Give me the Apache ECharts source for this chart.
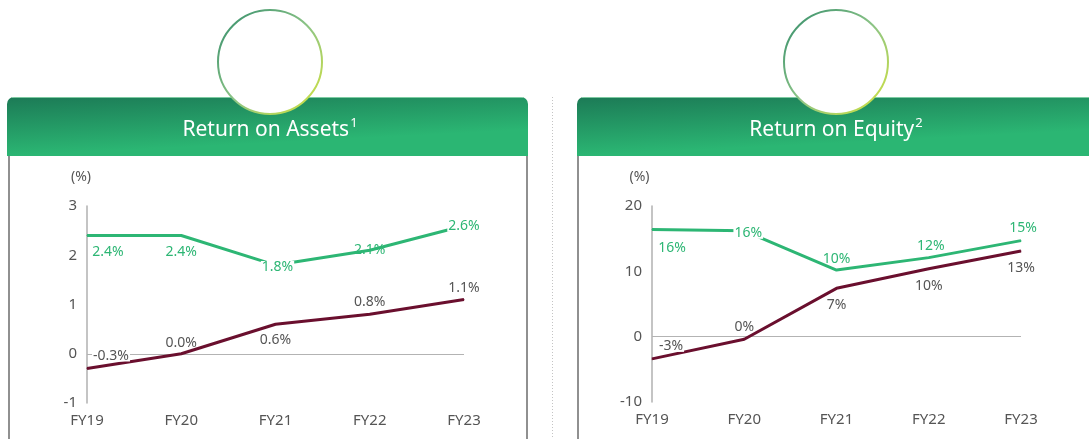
<!DOCTYPE html>
<html>
<head>
<meta charset="utf-8">
<script src="https://cdn.jsdelivr.net/npm/echarts@6/dist/echarts.min.js"></script>
<style>
html,body{margin:0;padding:0;background:#fff;}
#chart{width:1089px;height:439px;}
</style>
</head>
<body>
<div id="chart"></div>
<script>
// ---- data ----
const categories = ['FY19', 'FY20', 'FY21', 'FY22', 'FY23'];
const roaGreen  = [2.4, 2.4, 1.8, 2.1, 2.6];
const roaMaroon = [-0.3, 0.0, 0.6, 0.8, 1.1];
const roeGreen  = [16.4, 16.2, 10.2, 12.1, 14.7];
const roeMaroon = [-3.4, -0.4, 7.4, 10.4, 13.1];
const roaTicks = [-1, 0, 1, 2, 3];
const roeTicks = [-10, 0, 10, 20];
const titles = ['Return on Assets', 'Return on Equity'];
const titleNotes = ['1', '2'];

// ---- label placement (layout, not data): [dx, dy, whiteBackground] ----
const roaGreenLbl  = [[21, 16, 0], [0, 16, 0], [2, 2, 1], [0, 0, 0], [0, 0, 1]];
const roaMaroonLbl = [[24, -13, 1], [0, -11, 0], [0, 16, 0], [0, -12, 0], [0, -12, 0]];
const roeGreenLbl  = [[20, 18, 0], [4, 2, 1], [0, -11, 0], [2, -12, 0], [2, -13, 0]];
const roeMaroonLbl = [[19, -13, 1], [0, -12, 0], [0, 17, 0], [0, 17, 0], [0, 17, 0]];

const GREEN = '#2db674';
const MAROON = '#6a0f2e';
const GREY_TXT = '#555555';
const FONT = 'Noto Sans';

function buildData(vals, lbl, color, fmt) {
  return vals.map((v, i) => ({
    value: v,
    label: {
      show: true,
      position: 'inside',
      color: color,
      fontFamily: FONT,
      fontSize: 14,
      lineHeight: 12,
      backgroundColor: lbl[i][2] ? '#ffffff' : 'transparent',
      padding: [0, 1],
      formatter: () => fmt(v)
    }
  }));
}
const fmt1 = v => v.toFixed(1) + '%';
const fmt0 = v => (Math.round(v) === 0 ? 0 : Math.round(v)) + '%';

function lineSeries(xi, vals, lbl, color, lblColor, fmt, z, withZero) {
  const s = {
    type: 'line',
    xAxisIndex: xi,
    yAxisIndex: xi,
    data: buildData(vals, lbl, lblColor, fmt),
    symbol: 'circle',
    symbolSize: 1,
    itemStyle: { color: color },
    lineStyle: { color: color, width: 3 },
    z: z,
    silent: true,
    labelLayout: function (p) {
      const o = lbl[p.dataIndex];
      return { dx: o[0], dy: o[1], hideOverlap: false };
    }
  };
  if (withZero) {
    s.markLine = {
      silent: true,
      symbol: 'none',
      label: { show: false },
      lineStyle: { color: '#b3b3b3', width: 1.2, type: 'solid' },
      data: [{ yAxis: 0 }],
      z: 1
    };
  }
  return s;
}

function xAxis(gi) {
  return {
    type: 'category',
    gridIndex: gi,
    data: categories,
    boundaryGap: false,
    axisLine: { show: false },
    axisTick: { show: false },
    axisLabel: { color: GREY_TXT, fontFamily: FONT, fontSize: 15, margin: 10 }
  };
}
function yAxis(gi, ticks, padRight) {
  return {
    type: 'value',
    gridIndex: gi,
    min: ticks[0],
    max: ticks[ticks.length - 1],
    interval: ticks[1] - ticks[0],
    name: '(%)',
    nameLocation: 'end',
    nameGap: 22,
    nameTextStyle: { color: GREY_TXT, fontFamily: FONT, fontSize: 14, align: 'center', padding: [0, padRight, 0, 0] },
    axisLine: { show: true, lineStyle: { color: '#b0b0b0', width: 1.5 } },
    axisTick: { show: false },
    splitLine: { show: false },
    axisLabel: { color: GREY_TXT, fontFamily: FONT, fontSize: 15, margin: 10 }
  };
}

function headerGrad(x0) {
  return {
    type: 'linear', global: true, x: x0, y: 97, x2: x0 + 3, y2: 156,
    colorStops: [{ offset: 0, color: '#1c7a56' }, { offset: 1, color: '#2bb673' }]
  };
}
const ringGrad = {
  type: 'linear', x: 0, y: 0, x2: 1, y2: 1,
  colorStops: [{ offset: 0, color: '#2f8a6a' }, { offset: 0.5, color: '#8cc486' }, { offset: 1, color: '#d6e43a' }]
};

function panelGraphics(x0, w, cx, title, note) {
  return [
    { type: 'rect', z: 1, shape: { x: x0, y: 97, width: w, height: 59, r: [7, 7, 0, 0] }, style: { fill: headerGrad(x0) } },
    { type: 'line', z: 2, shape: { x1: x0 + 5, y1: 97.5, x2: x0 + w - 5, y2: 97.5 }, style: { stroke: 'rgba(150,220,180,0.8)', lineWidth: 1 } },
    { type: 'circle', z: 3, shape: { cx: cx, cy: 62, r: 52 }, style: { fill: '#ffffff', stroke: ringGrad, lineWidth: 2 } },
    {
      type: 'text', z: 4, x: cx, y: 130,
      style: {
        text: '{a|' + title + '}{s|' + note + '}',
        align: 'center', verticalAlign: 'middle',
        rich: {
          a: { fill: '#ffffff', fontFamily: FONT, fontSize: 21, lineHeight: 26, verticalAlign: 'middle' },
          s: { fill: '#ffffff', fontFamily: FONT, fontSize: 13, lineHeight: 26, verticalAlign: 'top', padding: [0, 0, 8, 1] }
        }
      }
    }
  ];
}

const graphics = [].concat(
  panelGraphics(7, 521, 270, titles[0], titleNotes[0]),
  panelGraphics(577, 530, 836, titles[1], titleNotes[1]),
  [
    { type: 'line', z: 1, shape: { x1: 9, y1: 156, x2: 9, y2: 439 }, style: { stroke: '#6b6b6b', lineWidth: 1.5 } },
    { type: 'line', z: 1, shape: { x1: 527, y1: 156, x2: 527, y2: 439 }, style: { stroke: '#6b6b6b', lineWidth: 1.5 } },
    { type: 'line', z: 1, shape: { x1: 578, y1: 156, x2: 578, y2: 439 }, style: { stroke: '#6b6b6b', lineWidth: 1.5 } },
    { type: 'line', z: 1, shape: { x1: 552.5, y1: 97, x2: 552.5, y2: 439 }, style: { stroke: '#c4c4c4', lineWidth: 1, lineDash: [1, 2] } }
  ]
);

const chart = echarts.init(document.getElementById('chart'), null, { renderer: 'canvas' });
chart.setOption({
  animation: false,
  backgroundColor: '#ffffff',
  textStyle: { fontFamily: FONT },
  grid: [
    { left: 87, top: 206, width: 377, height: 197 },
    { left: 652, top: 206, width: 369, height: 196 }
  ],
  xAxis: [xAxis(0), xAxis(1)],
  yAxis: [yAxis(0, roaTicks, 12), yAxis(1, roeTicks, 25)],
  graphic: graphics,
  series: [
    lineSeries(0, roaMaroon, roaMaroonLbl, MAROON, GREY_TXT, fmt1, 3, true),
    lineSeries(0, roaGreen, roaGreenLbl, GREEN, GREEN, fmt1, 4, false),
    lineSeries(1, roeMaroon, roeMaroonLbl, MAROON, GREY_TXT, fmt0, 3, true),
    lineSeries(1, roeGreen, roeGreenLbl, GREEN, GREEN, fmt0, 4, false)
  ]
});
</script>
</body>
</html>
